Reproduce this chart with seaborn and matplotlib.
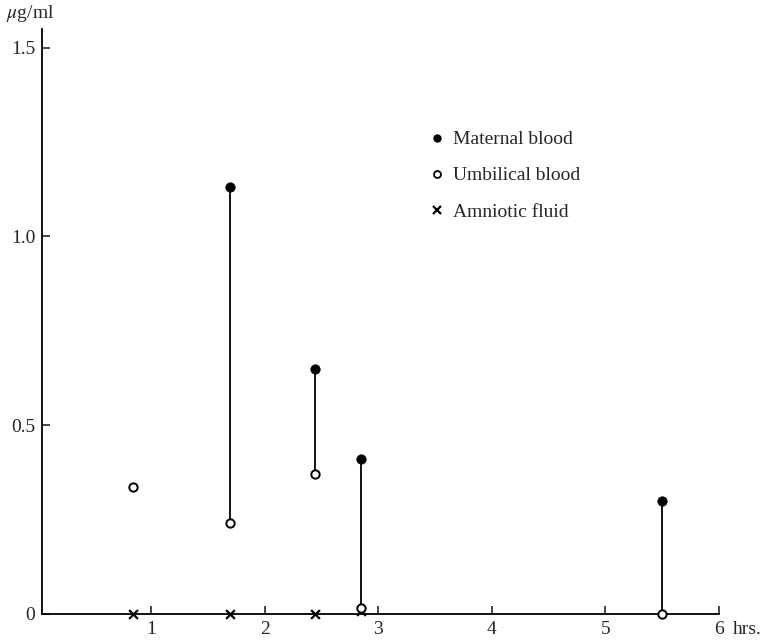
import matplotlib
matplotlib.use('Agg')
import matplotlib.pyplot as plt
import seaborn as sns
import pandas as pd

# hours after dose and concentration (ug/ml)
maternal_hrs = [1.69, 2.44, 2.85, 5.50]
maternal_conc = [1.13, 0.65, 0.41, 0.30]
umbilical_hrs = [0.84, 1.69, 2.44, 2.85, 5.50]
umbilical_conc = [0.335, 0.24, 0.37, 0.015, 0.0]
amniotic_hrs = [0.84, 1.69, 2.44, 2.85]
amniotic_conc = [0.0, 0.0, 0.0, 0.008]

x_ticks = [1, 2, 3, 4, 5, 6]
x_ticklabels = ["1", "2", "3", "4", "5", "6"]
y_ticks = [0, 0.5, 1.0, 1.5]
y_ticklabels = ["0", "0.5", "1.0", "1.5"]

sns.set_theme(style="ticks")
plt.rcParams['font.family'] = ['Liberation Serif', 'DejaVu Serif']
plt.rcParams['mathtext.fontset'] = 'stix'

fig = plt.figure(figsize=(7.69, 6.44), dpi=100)
ax = fig.add_axes([0.055, 0.047, 0.88, 0.908])

mat = pd.DataFrame({"hrs": maternal_hrs, "conc": maternal_conc})
umb = pd.DataFrame({"hrs": umbilical_hrs, "conc": umbilical_conc})
amn = pd.DataFrame({"hrs": amniotic_hrs, "conc": amniotic_conc})

# link maternal and umbilical values taken at the same time
paired = mat.merge(umb, on="hrs", suffixes=("_mat", "_umb"))
ax.vlines(paired["hrs"], paired["conc_umb"], paired["conc_mat"],
          color="black", lw=1.3, zorder=2)

sns.scatterplot(data=amn, x="hrs", y="conc", marker="x", s=40, color="black",
                linewidth=1.6, ax=ax, zorder=3, clip_on=False)
sns.scatterplot(data=umb, x="hrs", y="conc", marker="o", s=36, facecolor="white",
                edgecolor="black", linewidth=1.4, ax=ax, zorder=4, clip_on=False)
sns.scatterplot(data=mat, x="hrs", y="conc", marker="o", s=46, color="black",
                edgecolor="black", linewidth=0.5, ax=ax, zorder=5, clip_on=False)

ax.set_xlim(0.04, 6.0)
ax.set_ylim(0, 1.55)
ax.set_xticks(x_ticks)
ax.set_xticklabels(x_ticklabels, fontsize=14)
ax.set_yticks(y_ticks)
ax.set_yticklabels(y_ticklabels, fontsize=14)
ax.tick_params(direction="in", length=6, width=1.2, pad=5)
ax.set_xlabel("")
ax.set_ylabel("")
sns.despine(ax=ax)
for s in ["left", "bottom"]:
    ax.spines[s].set_linewidth(1.3)
    ax.spines[s].set_color("black")

# unit after the last x tick label
ax.annotate("hrs.", xy=(6, 0), xytext=(10, -5), textcoords="offset points",
            ha="left", va="top", fontsize=14)
fig.text(0.008, 0.995, r"$\mu$g/ml", fontsize=14, va="top", ha="left")

handles = [
    plt.Line2D([], [], ls="none", marker="o", ms=5, color="black"),
    plt.Line2D([], [], ls="none", marker="o", ms=5, mfc="white", mec="black", mew=1.3),
    plt.Line2D([], [], ls="none", marker="x", ms=6, color="black", mew=1.6),
]
ax.legend(handles, ["Maternal blood", "Umbilical blood", "Amniotic fluid"],
          loc="upper left", bbox_to_anchor=(0.545, 0.812), bbox_transform=fig.transFigure,
          frameon=False, fontsize=14, labelspacing=0.95, handletextpad=0.44,
          handlelength=0.8, borderpad=0)

fig.savefig("out.png", dpi=100)
